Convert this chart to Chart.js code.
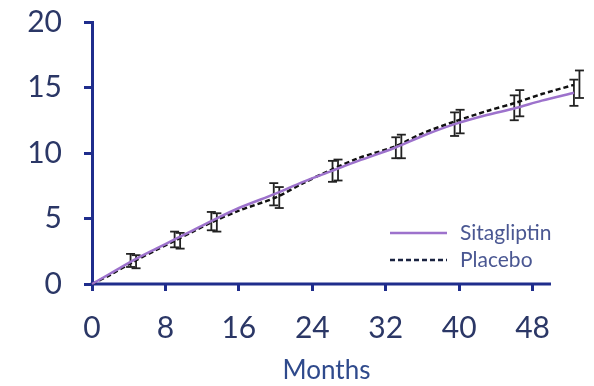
<!DOCTYPE html>
<html>
<head>
<meta charset="utf-8">
<script src="https://cdn.jsdelivr.net/npm/chart.js@4.4.1/dist/chart.umd.min.js"></script>
<style>
    html, body { margin: 0; padding: 0; background: #fff; }
    #wrap { width: 594px; height: 386px; position: relative; }
</style>
</head>
<body>
<div id="wrap"><canvas id="chart-incidence"></canvas></div>
<script>
// Cumulative incidence curves (months vs %)
const curveMonths = [0, 2, 4.5, 7, 9, 11, 13, 16, 20, 23, 26, 29, 33, 36, 39.5, 43, 46, 49, 52.5];
const sitagliptin = [0, 0.8, 1.8, 2.7, 3.4, 4.1, 4.8, 5.8, 6.9, 7.8, 8.6, 9.4, 10.4, 11.3, 12.2, 12.9, 13.4, 14.0, 14.6];
const placebo     = [0, 0.7, 1.7, 2.6, 3.3, 4.0, 4.7, 5.6, 6.6, 7.7, 8.7, 9.6, 10.5, 11.5, 12.4, 13.2, 13.8, 14.5, 15.2];

// Confidence intervals at visit months
const sitaBarMonths = [4.2, 9.0, 13.0, 19.8, 26.2, 33.1, 39.5, 46.0, 52.5];
const sitaLow  = [1.3, 2.8, 4.1, 6.0, 7.8, 9.6, 11.3, 12.5, 13.6];
const sitaHigh = [2.3, 4.0, 5.5, 7.7, 9.4, 11.2, 13.1, 14.4, 15.6];
const placBarMonths = [4.8, 9.6, 13.6, 20.4, 26.8, 33.7, 40.1, 46.6, 53.1];
const placLow  = [1.2, 2.7, 4.0, 5.8, 7.9, 9.6, 11.5, 12.8, 14.2];
const placHigh = [2.2, 3.9, 5.4, 7.4, 9.5, 11.4, 13.3, 14.8, 16.3];

// x axis line stops at this month; data runs a little past it
const xAxisEnd = 50;
const xTitle = 'Months';

const axisColor = '#1f2d8c';
const tickColor = '#2b3766';
const legendText = '#4a5792';
const purple = '#9d72cc';

function toPoints(xs, ys) {
    return xs.map((x, i) => ({ x: x, y: ys[i] }));
}

// vertical whisker per visit, separated by null gaps
function toBars(xs, lows, highs) {
    const pts = [];
    xs.forEach((x, i) => {
        pts.push({ x: x, y: lows[i] });
        pts.push({ x: x, y: highs[i] });
        pts.push({ x: x, y: null });
    });
    return pts;
}

const legendItems = [
    { label: 'Sitagliptin', color: purple, dash: [] },
    { label: 'Placebo', color: '#1a2340', dash: [5, 3] }
];

const legendPlugin = {
    id: 'cornerLegend',
    afterDraw(chart) {
        const ctx = chart.ctx;
        ctx.save();
        ctx.font = '21px Lato';
        ctx.textBaseline = 'middle';
        legendItems.forEach((item, i) => {
            const y = 233 + i * 27;
            ctx.strokeStyle = item.color;
            ctx.lineWidth = 2.5;
            ctx.setLineDash(item.dash);
            ctx.beginPath();
            ctx.moveTo(390, y);
            ctx.lineTo(447, y);
            ctx.stroke();
            ctx.setLineDash([]);
            ctx.fillStyle = legendText;
            ctx.fillText(item.label, 460, y);
        });
        ctx.restore();
    }
};

// bottom axis line (only up to xAxisEnd) and its title centred under it
const xAxisLine = {
    id: 'xAxisLine',
    beforeDatasetsDraw(chart) {
        const x = chart.scales.x, y = chart.scales.y;
        const ctx = chart.ctx;
        const yPix = y.getPixelForValue(0);
        const x0 = x.getPixelForValue(0), x1 = x.getPixelForValue(xAxisEnd);
        ctx.save();
        ctx.strokeStyle = axisColor;
        ctx.lineWidth = 3;
        ctx.beginPath();
        ctx.moveTo(x0 - 1.5, yPix);
        ctx.lineTo(x1, yPix);
        ctx.stroke();
        ctx.fillStyle = '#2f4a8c';
        ctx.font = '26px Lato';
        ctx.textAlign = 'center';
        ctx.textBaseline = 'middle';
        ctx.fillText(xTitle, (x0 + x1) / 2 + 5, 371);
        ctx.restore();
    }
};

const barStyle = {
    type: 'line',
    borderColor: '#222',
    borderWidth: 1.8,
    pointStyle: 'line',
    pointRadius: 4.5,
    pointBorderColor: '#222',
    pointBorderWidth: 1.8,
    spanGaps: false,
    clip: false
};

const ctx = document.getElementById('chart-incidence').getContext('2d');
new Chart(ctx, {
    type: 'line',
    data: {
        datasets: [
            {
                label: 'Sitagliptin',
                data: toPoints(curveMonths, sitagliptin),
                borderColor: purple,
                borderWidth: 2.5,
                pointRadius: 0,
                tension: 0.3,
                clip: false
            },
            {
                label: 'Placebo',
                data: toPoints(curveMonths, placebo),
                borderColor: '#111',
                borderWidth: 2.5,
                borderDash: [5, 3],
                pointRadius: 0,
                tension: 0.3,
                clip: false
            },
            { ...barStyle, label: 'Sitagliptin CI', data: toBars(sitaBarMonths, sitaLow, sitaHigh) },
            { ...barStyle, label: 'Placebo CI', data: toBars(placBarMonths, placLow, placHigh) }
        ]
    },
    options: {
        responsive: true,
        maintainAspectRatio: false,
        animation: false,
        layout: { padding: { top: 22, right: 3, left: 0, bottom: 0 } },
        plugins: {
            legend: { display: false },
            tooltip: { enabled: false }
        },
        scales: {
            x: {
                type: 'linear',
                min: 0,
                max: 54,
                afterFit: (scale) => {
                    scale.height = 102;
                    scale.paddingLeft = 0;
                    scale.paddingRight = 0;
                },
                border: { display: false },
                grid: { drawOnChartArea: false, drawTicks: true, tickLength: 7, color: axisColor, lineWidth: 3 },
                ticks: {
                    stepSize: 8,
                    includeBounds: false,
                    padding: 19,
                    color: tickColor,
                    font: { family: 'Lato', size: 30 }
                }
            },
            y: {
                min: 0,
                max: 20,
                afterFit: (scale) => {
                    scale.width = 92;
                    scale.paddingTop = 0;
                    scale.paddingBottom = 0;
                },
                border: { color: axisColor, width: 3 },
                grid: { drawOnChartArea: false, drawTicks: true, tickLength: 8, color: axisColor, lineWidth: 3 },
                ticks: {
                    stepSize: 5,
                    padding: 22,
                    color: tickColor,
                    font: { family: 'Lato', size: 30 }
                }
            }
        }
    },
    plugins: [xAxisLine, legendPlugin]
});
</script>
</body>
</html>
